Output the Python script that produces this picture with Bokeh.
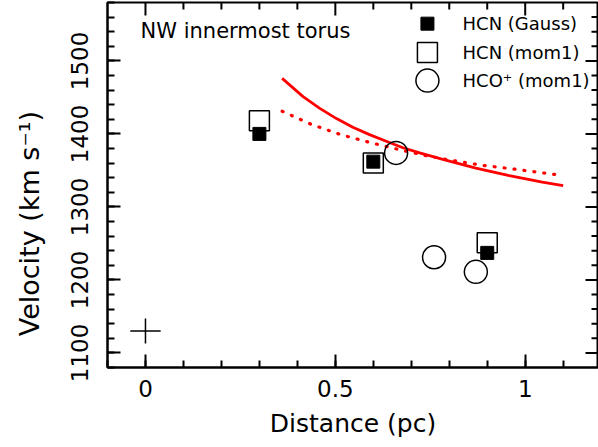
from bokeh.plotting import figure
from bokeh.models import LinearAxis, SingleIntervalTicker, Range1d, Label
from bokeh.embed import file_html
from bokeh.resources import INLINE
from bokeh.core.properties import value

# ---------------- data ----------------
hcn_gauss_dist = [0.30, 0.60, 0.90]
hcn_gauss_vel = [1400, 1362, 1237]

hcn_mom1_dist = [0.30, 0.60, 0.90]
hcn_mom1_vel = [1418, 1360, 1251]

hco_mom1_dist = [0.66, 0.76, 0.87]
hco_mom1_vel = [1374, 1231, 1211]

model_solid_dist = [0.36, 0.415, 0.459, 0.503, 0.546, 0.590, 0.634, 0.678, 0.722, 0.783, 0.870, 0.958, 1.045, 1.100]
model_solid_vel = [1476, 1451, 1435, 1421, 1409, 1399, 1390, 1381, 1374, 1365, 1353, 1343, 1334, 1329]

model_dotted_dist = [0.36, 0.437, 0.514, 0.593, 0.672, 0.740, 0.805, 0.886, 0.968, 1.040, 1.100]
model_dotted_vel = [1431, 1413, 1399, 1388, 1378, 1370, 1364, 1357, 1352, 1347, 1343]

err_dist = [0.0]
err_vel = [1130]
err_dx = [0.04]
err_dv = [17]

legend_labels = ["HCN (Gauss)", "HCN (mom1)", "HCO\u207a (mom1)"]
x_tick_labels = {0: "0", 0.5: "0.5", 1: "1"}
x_major_ticks = [0.0, 0.5, 1.0]
x_minor_ticks = [0.1, 0.2, 0.3, 0.4, 0.6, 0.7, 0.8, 0.9, 1.1]
y_major_ticks = [1100, 1200, 1300, 1400, 1500]
y_minor_ticks = [1120, 1140, 1160, 1180, 1220, 1240, 1260, 1280, 1320, 1340, 1360, 1380,
                 1420, 1440, 1460, 1480, 1520, 1540, 1560]
title_text = "NW innermost torus"
x_label = "Distance (pc)"
y_label = "Velocity (km s\u207b\u00b9)"

# ---------------- layout / style ----------------
FONT = "DejaVu Sans"
X_RANGE = (-0.1, 1.193)
Y_RANGE = (1080, 1580)
PX_PER_X = 491 / (X_RANGE[1] - X_RANGE[0])
PX_PER_Y = 365 / (Y_RANGE[1] - Y_RANGE[0])
MAJ_LEN, MIN_LEN = 13, 7
LEG_MARK_X = 0.7425
LEG_TEXT_X = 0.835
LEG_Y = [1551, 1511.5, 1473]
Y_LABEL_PAD = "\u00a0" * 9  # shifts the centred axis title toward the bottom, as in the reference

p = figure(width=598, height=447, output_backend="svg", toolbar_location=None,
           x_range=Range1d(*X_RANGE), y_range=Range1d(*Y_RANGE),
           x_axis_type=None, y_axis_type=None,
           min_border_left=107, min_border_right=0, min_border_top=2, min_border_bottom=80)
p.grid.visible = False
p.outline_line_color = "black"
p.outline_line_width = 2
p.background_fill_color = "white"
p.border_fill_color = "white"


def style_axis(ax):
    ax.axis_line_width = 2
    ax.axis_line_color = "black"
    ax.major_tick_in = MAJ_LEN
    ax.major_tick_out = 0
    ax.minor_tick_in = MIN_LEN
    ax.minor_tick_out = 0
    ax.major_tick_line_width = 2
    ax.minor_tick_line_width = 2
    ax.major_tick_line_color = "black"
    ax.minor_tick_line_color = "black"
    ax.major_label_text_font = FONT
    ax.major_label_text_color = "black"
    ax.major_label_text_font_size = "23px"
    ax.axis_label_text_font = FONT
    ax.axis_label_text_font_style = "normal"
    ax.axis_label_text_color = "black"
    ax.axis_label_text_font_size = "25px"


xb = LinearAxis(ticker=SingleIntervalTicker(interval=0.5, num_minor_ticks=5), axis_label=x_label)
style_axis(xb)
xb.major_label_overrides = x_tick_labels
xb.major_label_standoff = 12
xb.axis_label_standoff = 9
p.add_layout(xb, "below")

yl = LinearAxis(ticker=SingleIntervalTicker(interval=100, num_minor_ticks=5),
                axis_label=y_label + Y_LABEL_PAD)
style_axis(yl)
yl.axis_label_text_font_size = "27px"
yl.major_label_orientation = "vertical"
yl.major_label_standoff = 19
yl.axis_label_standoff = 24
p.add_layout(yl, "left")

# inward ticks on the top and right frame edges
ytop = Y_RANGE[1]
xright = X_RANGE[1]
p.segment(x0=x_major_ticks, y0=[ytop] * len(x_major_ticks), x1=x_major_ticks,
          y1=[ytop - MAJ_LEN / PX_PER_Y] * len(x_major_ticks), line_color="black", line_width=2)
p.segment(x0=x_minor_ticks, y0=[ytop] * len(x_minor_ticks), x1=x_minor_ticks,
          y1=[ytop - MIN_LEN / PX_PER_Y] * len(x_minor_ticks), line_color="black", line_width=2)
p.segment(x0=[xright] * len(y_major_ticks), y0=y_major_ticks,
          x1=[xright - MAJ_LEN / PX_PER_X] * len(y_major_ticks), y1=y_major_ticks,
          line_color="black", line_width=2)
p.segment(x0=[xright] * len(y_minor_ticks), y0=y_minor_ticks,
          x1=[xright - MIN_LEN / PX_PER_X] * len(y_minor_ticks), y1=y_minor_ticks,
          line_color="black", line_width=2)

# model curves
p.line(model_solid_dist, model_solid_vel, line_color="#ff0000", line_width=2.8)
p.line(model_dotted_dist, model_dotted_vel, line_color="#ff0000", line_width=3.2,
       line_dash="1 9", line_cap="round")

# error cross
p.segment(x0=[d - e for d, e in zip(err_dist, err_dx)], y0=err_vel,
          x1=[d + e for d, e in zip(err_dist, err_dx)], y1=err_vel,
          line_color="black", line_width=1.5)
p.segment(x0=err_dist, y0=[v - e for v, e in zip(err_vel, err_dv)],
          x1=err_dist, y1=[v + e for v, e in zip(err_vel, err_dv)],
          line_color="black", line_width=1.5)

# data points
p.scatter(hcn_mom1_dist, hcn_mom1_vel, marker="square", size=20,
          fill_color=None, line_color="black", line_width=1.5)
p.scatter(hcn_gauss_dist, hcn_gauss_vel, marker="square", size=13,
          fill_color="black", line_color="black", line_width=1)
p.scatter(hco_mom1_dist, hco_mom1_vel, marker="circle", size=23,
          fill_color=None, line_color="black", line_width=1.5)

# legend (manual, keeps marker sizes)
p.scatter([LEG_MARK_X], [LEG_Y[0]], marker="square", size=13,
          fill_color="black", line_color="black", line_width=1)
p.scatter([LEG_MARK_X], [LEG_Y[1]], marker="square", size=20,
          fill_color=None, line_color="black", line_width=1.5)
p.scatter([LEG_MARK_X], [LEG_Y[2]], marker="circle", size=23,
          fill_color=None, line_color="black", line_width=1.5)
p.text(x=[LEG_TEXT_X] * 3, y=LEG_Y, text=legend_labels,
       text_font=value(FONT), text_font_size="18px", text_baseline="middle",
       text_align="left", text_color="black")

p.add_layout(Label(x=-0.013, y=1541.6, text=title_text, text_font=FONT,
                   text_font_size="21px", text_baseline="middle", text_align="left",
                   text_color="black"))

open("out.html", "w").write(file_html(p, INLINE))
